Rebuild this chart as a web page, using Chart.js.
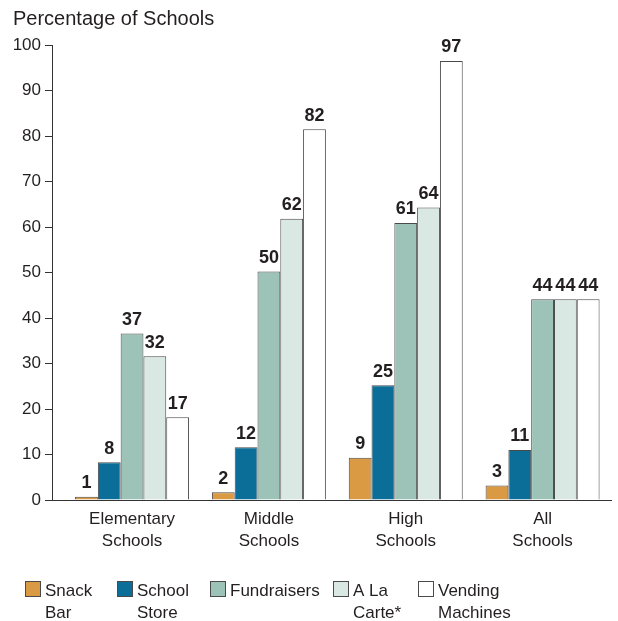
<!DOCTYPE html>
<html>
<head>
<meta charset="utf-8">
<script src="https://cdn.jsdelivr.net/npm/chart.js@4.4.1/dist/chart.umd.min.js"></script>
<style>
  html, body { margin: 0; padding: 0; background: #ffffff; }
  #wrap { width: 618px; height: 621px; position: relative; }
</style>
</head>
<body>
<div id="wrap"><canvas id="c" width="618" height="621"></canvas></div>
<script>
// ---- data ----
const categories = [['Elementary', 'Schools'], ['Middle', 'Schools'], ['High', 'Schools'], ['All', 'Schools']];
const seriesNames = [['Snack', 'Bar'], ['School', 'Store'], ['Fundraisers'], ['A La', 'Carte*'], ['Vending', 'Machines']];
const snackBar = [0.7, 1.7, 9.3, 3.2];
const schoolStore = [8.3, 11.6, 25.2, 11.0];
const fundraisers = [36.6, 50.2, 60.9, 44.1];
const aLaCarte = [31.6, 61.8, 64.3, 44.1];
const vendingMachines = [18.2, 81.5, 96.5, 44.1];
const snackBarLabels = ['1', '2', '9', '3'];
const schoolStoreLabels = ['8', '12', '25', '11'];
const fundraisersLabels = ['37', '50', '61', '44'];
const aLaCarteLabels = ['32', '62', '64', '44'];
const vendingMachinesLabels = ['17', '82', '97', '44'];
const yTicks = [0, 10, 20, 30, 40, 50, 60, 70, 80, 90, 100];
const yTitle = 'Percentage of Schools';

// ---- styling ----
const colors = ['#D99A43', '#0B6E99', '#9DC3B8', '#DAE8E4', '#FFFFFF'];
const FONT = '"Liberation Sans", Arial, Helvetica, sans-serif';
const TEXT = '#231F20';

const seriesValues = [snackBar, schoolStore, fundraisers, aLaCarte, vendingMachines];
const seriesLabels = [snackBarLabels, schoolStoreLabels, fundraisersLabels, aLaCarteLabels, vendingMachinesLabels];

const datasets = seriesValues.map((vals, s) => ({
  label: seriesNames[s].join(' '),
  data: vals.map((v, i) => ({ x: i, y: v })),
  backgroundColor: colors[s],
  borderColor: '#4A4A4A',
  borderWidth: 1,
  borderSkipped: 'bottom',
  categoryPercentage: 0.833,
  barPercentage: 1.0
}));

const valueLabelPlugin = {
  id: 'valueLabels',
  afterDatasetsDraw(chart) {
    const ctx = chart.ctx;
    ctx.save();
    ctx.font = 'bold 18px ' + FONT;
    ctx.fillStyle = TEXT;
    ctx.textAlign = 'center';
    ctx.textBaseline = 'alphabetic';
    chart.data.datasets.forEach((ds, s) => {
      const meta = chart.getDatasetMeta(s);
      meta.data.forEach((el, i) => {
        ctx.fillText(seriesLabels[s][i], el.x, el.y - 8.5);
      });
    });
    ctx.restore();
  }
};

const legendPlugin = {
  id: 'twoLineLegend',
  afterDraw(chart) {
    const ctx = chart.ctx;
    const xs = [25, 117, 210, 333, 418];
    const boxTop = 581, box = 15;
    ctx.save();
    ctx.font = '17px ' + FONT;
    ctx.textAlign = 'left';
    ctx.textBaseline = 'alphabetic';
    chart.data.datasets.forEach((ds, s) => {
      const x = xs[s];
      ctx.fillStyle = ds.backgroundColor;
      ctx.fillRect(x + 0.5, boxTop + 0.5, box, box);
      ctx.strokeStyle = '#4A4A4A';
      ctx.lineWidth = 1;
      ctx.strokeRect(x + 0.5, boxTop + 0.5, box, box);
      ctx.fillStyle = TEXT;
      seriesNames[s].forEach((line, k) => {
        ctx.fillText(line, x + 20, 595.5 + k * 22);
      });
    });
    ctx.restore();
  }
};

new Chart(document.getElementById('c'), {
  type: 'bar',
  data: { datasets },
  plugins: [valueLabelPlugin, legendPlugin],
  options: {
    responsive: false,
    animation: false,
    devicePixelRatio: 1,
    layout: { padding: { left: 13, right: 7, top: 0, bottom: 60 } },
    plugins: {
      legend: { display: false },
      tooltip: { enabled: false },
      title: {
        display: true,
        text: yTitle,
        align: 'start',
        color: TEXT,
        font: { family: FONT, size: 20, weight: 'normal' },
        padding: { top: 7, bottom: 14 }
      }
    },
    scales: {
      x: {
        type: 'linear',
        offset: false,
        min: -0.585,
        max: 3.5,
        afterBuildTicks(scale) { scale.ticks = categories.map((c, i) => ({ value: i })); },
        afterFit(scale) { scale.height = 61; },
        ticks: {
          autoSkip: false,
          maxRotation: 0,
          color: TEXT,
          padding: 8,
          font: { family: FONT, size: 17, lineHeight: 1.3 },
          callback: (v) => categories[v]
        },
        grid: { display: true, offset: false, drawOnChartArea: false, drawTicks: false },
        border: { display: true, color: '#333333', width: 1 }
      },
      y: {
        min: 0,
        max: 100,
        afterBuildTicks(scale) { scale.ticks = yTicks.map(v => ({ value: v })); },
        afterFit(scale) { scale.width = 39; },
        ticks: {
          color: TEXT,
          padding: 4,
          font: { family: FONT, size: 17 }
        },
        grid: { display: true, drawOnChartArea: false, drawTicks: true, tickLength: 7, color: '#333333' },
        border: { display: true, color: '#333333', width: 1 }
      }
    }
  }
});
</script>
</body>
</html>
